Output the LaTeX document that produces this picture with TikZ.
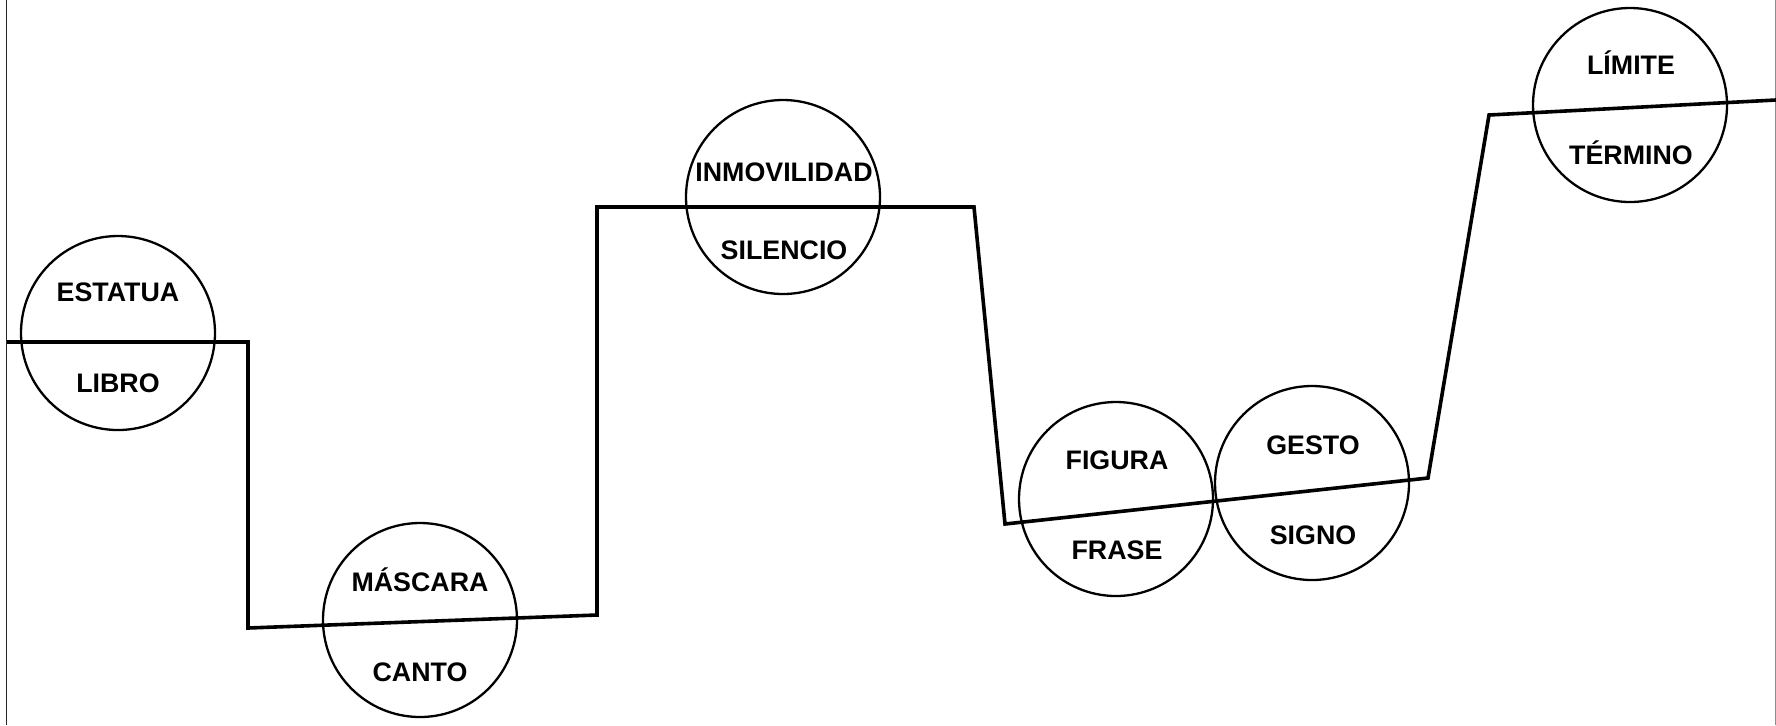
\documentclass[tikz,border=0pt]{standalone}
\usepackage{fontspec}
\setmainfont{Liberation Sans}
\usetikzlibrary{positioning}

\begin{document}
\begin{tikzpicture}[x=0.5pt, y=-0.5pt,
  ring/.style={circle, draw=black, line width=1.15pt, minimum size=97pt, inner sep=0pt},
  word/.style={font=\bfseries\fontsize{13.4}{15}\selectfont, text height=0.72em, text depth=0pt, inner sep=0pt, yshift=-1.3pt},
  trail/.style={line width=1.8pt, line join=miter}]
  \useasboundingbox (0,0) rectangle (1776,725);
  % page edges
  \draw[line width=0.65pt, black!85] (6.5,0) -- (6.5,725);
  \draw[line width=0.5pt, black!45] (1775,0) -- (1775,725);
  % circles
  \node[ring] (estatua) at (118,333) {};
  \node[ring] (mascara) at (420,620) {};
  \node[ring] (inmov) at (783,197) {};
  \node[ring] (figura) at (1116,499) {};
  \node[ring] (gesto) at (1312,483) {};
  \node[ring] (limite) at (1630,105) {};
  % the broken line
  \draw[trail] (7,342) -- (248,342) -- (248,628) -- (597,615) -- (597,207)
    -- (974,207) -- (1005,524) -- (1428,478) -- (1489,115) -- (1776,100);
  % words
  \node[word] (estatuaW) at (118,292) {ESTATUA};
  \node[word] (libroW) at (118,383) {LIBRO};
  \node[word] (mascaraW) at (420,582) {MÁSCARA};
  \node[word] (cantoW) at (420,672) {CANTO};
  \node[word] (inmovW) at (784,172) {INMOVILIDAD};
  \node[word] (silencioW) at (784,250) {SILENCIO};
  \node[word] (figuraW) at (1117,460) {FIGURA};
  \node[word] (fraseW) at (1117,550) {FRASE};
  \node[word] (gestoW) at (1313,445) {GESTO};
  \node[word] (signoW) at (1313,535) {SIGNO};
  \node[word] (limiteW) at (1631,65) {LÍMITE};
  \node[word] (terminoW) at (1631,155) {TÉRMINO};
\end{tikzpicture}
\end{document}
